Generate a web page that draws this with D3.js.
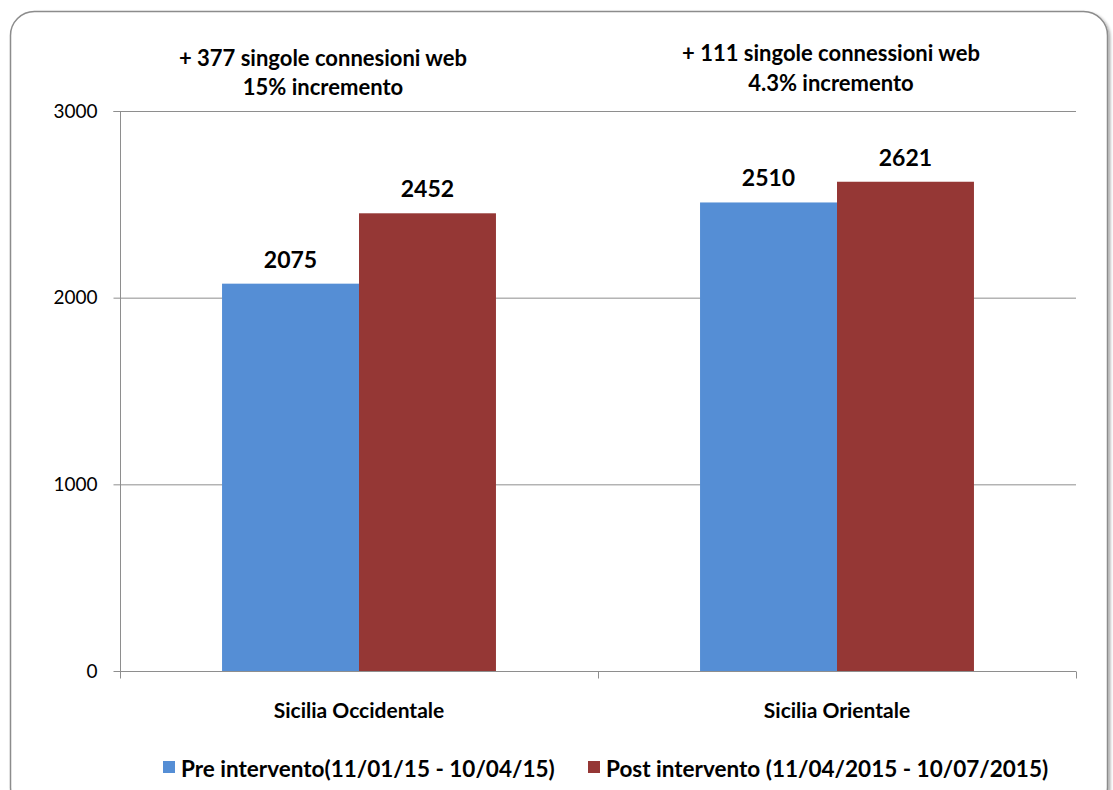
<!DOCTYPE html>
<html>
<head>
<meta charset="utf-8">
<script src="https://cdn.jsdelivr.net/npm/d3@7"></script>
<style>
  html, body { margin: 0; padding: 0; background: #fff; }
  svg { display: block; }
  text { font-family: Lato, "Open Sans", sans-serif; fill: #000; }
</style>
</head>
<body>
<svg id="chart" width="1113" height="790"></svg>
<script>
const categories = ["Sicilia Occidentale", "Sicilia Orientale"];
const seriesNames = ["Pre intervento(11/01/15 - 10/04/15)", "Post intervento (11/04/2015 - 10/07/2015)"];
const preValues = [2075, 2510];
const postValues = [2452, 2621];
const seriesColors = ["#558ed5", "#953735"];
const yTicks = [0, 1000, 2000, 3000];
const notesLine1 = ["+ 377 singole connesioni web", "+ 111 singole connessioni web"];
const notesLine2 = ["15% incremento", "4.3% incremento"];

const svg = d3.select("#chart");

// frame with soft shadow
const defs = svg.append("defs");
const f = defs.append("filter").attr("id", "shadow").attr("x", "-5%").attr("y", "-5%").attr("width", "110%").attr("height", "110%");
f.append("feDropShadow").attr("dx", 2).attr("dy", 2).attr("stdDeviation", 1.5).attr("flood-color", "#000").attr("flood-opacity", 0.35);
svg.append("rect")
  .attr("x", 10.5).attr("y", 11.5).attr("width", 1097).attr("height", 800)
  .attr("rx", 24).attr("ry", 24)
  .attr("fill", "#fff").attr("stroke", "#8c8c8c").attr("stroke-width", 1.5)
  .attr("filter", "url(#shadow)");

const plot = { left: 120, right: 1076, top: 111, bottom: 671 };

const x0 = d3.scaleBand().domain(categories).range([plot.left, plot.right]).paddingInner(0).paddingOuter(0);
const x1 = d3.scaleBand().domain([0, 1]).range([0, x0.bandwidth()]).paddingInner(0).paddingOuter(0.745);
const y = d3.scaleLinear().domain([0, 3000]).range([plot.bottom, plot.top]);

// gridlines
svg.append("g").selectAll("line").data(yTicks.filter(d => d > 0)).join("line")
  .attr("x1", plot.left).attr("x2", plot.right)
  .attr("y1", d => y(d) + 0.5).attr("y2", d => y(d) + 0.5)
  .attr("stroke", "#8e8e8e").attr("stroke-width", 1);

// bars
const rows = categories.map((c, i) => ({ cat: c, vals: [preValues[i], postValues[i]] }));
const groups = svg.append("g").selectAll("g").data(rows).join("g")
  .attr("transform", d => `translate(${x0(d.cat)},0)`);
groups.selectAll("rect").data(d => d.vals.map((v, s) => ({ v, s }))).join("rect")
  .attr("x", d => x1(d.s)).attr("width", x1.bandwidth())
  .attr("y", d => y(d.v)).attr("height", d => y(0) - y(d.v))
  .attr("fill", d => seriesColors[d.s]);
groups.selectAll("text.val").data(d => d.vals.map((v, s) => ({ v, s }))).join("text")
  .attr("class", "val")
  .attr("x", d => x1(d.s) + x1.bandwidth() / 2)
  .attr("y", d => y(d.v) - 16)
  .attr("text-anchor", "middle")
  .attr("font-size", 23).attr("font-weight", 700)
  .text(d => d.v);

// y axis
const yAxis = svg.append("g").attr("transform", `translate(${plot.left + 0.5},0)`)
  .call(d3.axisLeft(y).tickValues(yTicks).tickSize(7).tickPadding(16).tickFormat(d3.format("d")));
yAxis.select(".domain").attr("stroke", "#8e8e8e").attr("d", `M-7,${plot.top + 0.5}H0V${plot.bottom + 0.5}`);
yAxis.selectAll(".tick line").attr("stroke", "#8e8e8e");
yAxis.selectAll(".tick text").attr("font-size", 19).attr("fill", "#222")
  .attr("font-family", "Lato, sans-serif");

// x axis
const xAxis = svg.append("g").attr("transform", `translate(0,${plot.bottom + 0.5})`)
  .call(d3.axisBottom(x0).tickSize(0).tickPadding(32));
xAxis.select(".domain").attr("stroke", "#8e8e8e").attr("d", `M${plot.left},0H${plot.right}`);
xAxis.selectAll(".tick text").attr("font-size", 21).attr("font-weight", 700)
  .attr("font-family", "Lato, sans-serif").attr("fill", "#000");
const bounds = [plot.left, x0(categories[1]), plot.right];
xAxis.append("g").selectAll("line").data(bounds).join("line")
  .attr("x1", d => Math.round(d) + 0.5).attr("x2", d => Math.round(d) + 0.5)
  .attr("y1", 0).attr("y2", 7).attr("stroke", "#8e8e8e");

// notes above each group
const noteCx = [323, 831];
const notes = svg.append("g");
categories.forEach((c, i) => {
  notes.append("text").attr("x", noteCx[i]).attr("y", i === 0 ? 66 : 61)
    .attr("text-anchor", "middle").attr("font-size", 22).attr("font-weight", 700)
    .text(notesLine1[i]);
  notes.append("text").attr("x", noteCx[i]).attr("y", i === 0 ? 95 : 91)
    .attr("text-anchor", "middle").attr("font-size", 22).attr("font-weight", 700)
    .text(notesLine2[i]);
});

// legend
const legendX = [163, 588];
const legend = svg.append("g");
seriesNames.forEach((name, i) => {
  legend.append("rect").attr("x", legendX[i]).attr("y", 761).attr("width", 12).attr("height", 12)
    .attr("fill", seriesColors[i]);
  legend.append("text").attr("x", legendX[i] + 18).attr("y", 777)
    .attr("font-size", 22.5).attr("font-weight", 700).text(name);
});
</script>
</body>
</html>
